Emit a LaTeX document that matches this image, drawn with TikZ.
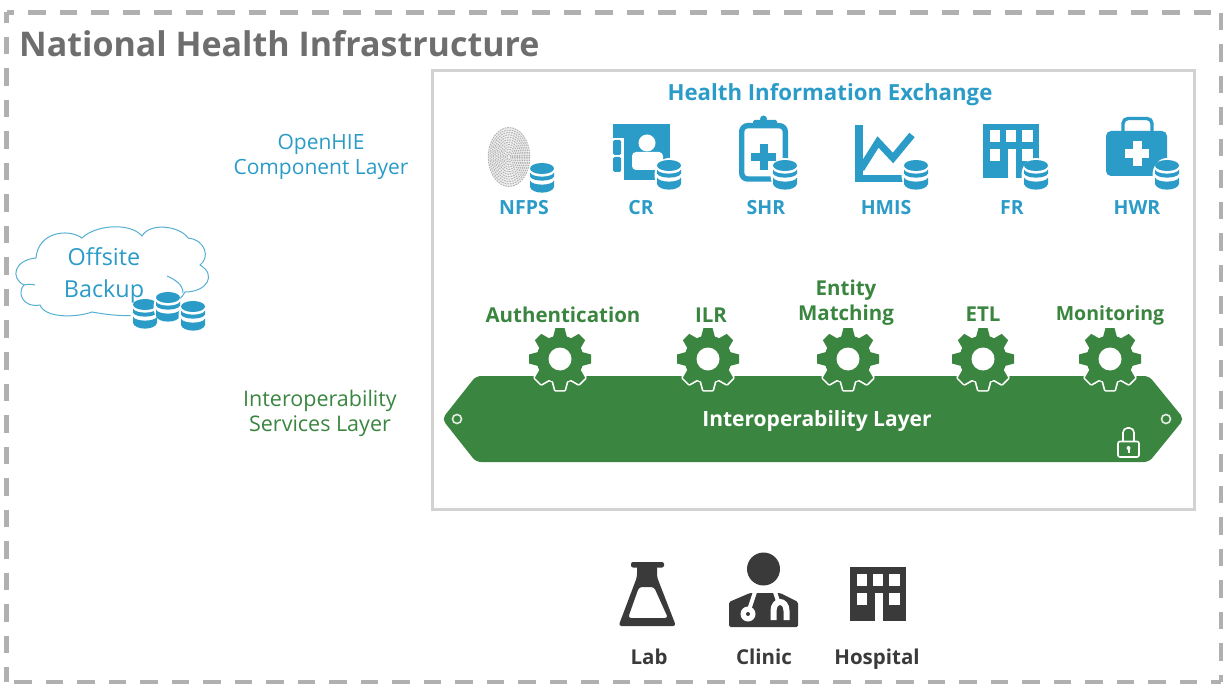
\documentclass[tikz,border=0pt]{standalone}
\usepackage{fontspec}
\setmainfont{Open Sans}
\usepackage{xcolor}
\usepackage{tikz}
\usetikzlibrary{arrows.meta,positioning,calc}
\definecolor{hieblue}{HTML}{2B9BC8}
\definecolor{hiegreen}{HTML}{3A853F}
\definecolor{hiegrey}{HTML}{6E6E6E}
\definecolor{hiedark}{HTML}{3A3A3A}
\definecolor{hiedash}{HTML}{B0B0B0}
\definecolor{hiepanel}{HTML}{D2D2D2}
\tikzset{
    pics/dbstack/.style={code={
        \fill[white] (0,0) ellipse [x radius=14.5,y radius=17];
        \fill[hieblue] (0,-9.5) ellipse [x radius=12,y radius=5.5];
        \fill[hieblue] (-12,-5.5) .. controls (-10,0) and (10,0) .. (12,-5.5) -- (12,-1.5) .. controls (10,4) and (-10,4) .. (-12,-1.5) -- cycle;
        \fill[hieblue] (-12,2.5) .. controls (-10,8) and (10,8) .. (12,2.5) -- (12,9) .. controls (10,16.5) and (-10,16.5) .. (-12,9) -- cycle;
    }},
    pics/gear/.style={code={
        \foreach \ang in {0,45,...,315} {
            \draw[white, line width=3.4, line join=round, rotate=\ang] (-7.5,-20) -- (-4.5,-31) -- (4.5,-31) -- (7.5,-20);
        }
        \draw[white, line width=3.4] (0,0) circle (23);
        \fill[hiegreen] (0,0) circle (23.5);
        \foreach \ang in {0,45,...,315} {
            \fill[hiegreen, rotate=\ang] (-7.5,-20) -- (-4.5,-31) -- (4.5,-31) -- (7.5,-20) -- cycle;
        }
        \fill[white] (0,0) circle (11.5);
    }},
    pics/building/.style={code={
        \fill[#1] (0,0) rectangle (56,54);
        \fill[white] (6.5,6.5) rectangle (17,18.5);
        \fill[white] (23,6.5) rectangle (33,18.5);
        \fill[white] (39,6.5) rectangle (49.5,18.5);
        \fill[white] (6.5,25.5) rectangle (17,37.5);
        \fill[white] (39,25.5) rectangle (49.5,37.5);
        \fill[white] (25,25.5) rectangle (33,54);
    }},
}
\begin{document}
\begin{tikzpicture}[
    x=1pt, y=-1pt,
    border/.style={draw=hiedash, line width=4.3, dash pattern=on 17.5pt off 14pt},
    panel/.style={draw=hiepanel, line width=3},
    title/.style={font=\fontsize{34}{36}\selectfont\bfseries, text=hiegrey, inner sep=0pt},
    bluehead/.style={font=\fontsize{22.2}{24}\selectfont\bfseries, text=hieblue, inner sep=0pt},
    layerblue/.style={font=\fontsize{21}{25}\selectfont, text=hieblue, align=center, inner sep=0pt},
    layergreen/.style={font=\fontsize{21.5}{25}\selectfont, text=hiegreen, align=center, inner sep=0pt},
    bluelabel/.style={font=\fontsize{19.5}{20}\selectfont\bfseries, text=hieblue, inner sep=0pt, anchor=base},
    greenlabel/.style={font=\fontsize{20.5}{25}\selectfont\bfseries, text=hiegreen, align=center, inner sep=0pt},
    darklabel/.style={font=\fontsize{20.5}{20}\selectfont\bfseries, text=hiedark, inner sep=0pt, anchor=base},
    cloudlabel/.style={font=\fontsize{23.4}{32}\selectfont, text=hieblue, align=center, inner sep=0pt},
    cloudline/.style={draw=hieblue!80, line width=1}
]
    \useasboundingbox (0,0) rectangle (1225,684);

    % Frames
    \draw[border, dash phase=10pt] (6.5,12.5) -- (1220.8,12.5);
    \draw[border, dash phase=7pt] (6.5,12.5) -- (6.5,682);
    \draw[border, dash phase=10pt] (1220.8,682) -- (1220.8,12.5);
    \draw[border, dash phase=7.7pt] (1220.8,682) -- (6.5,682);
    \draw[panel] (432,71) rectangle (1194,509);
    \node[title, anchor=west] (national) at (19,44) {National Health Infrastructure};

    % Cloud
    \draw[cloudline] (36,258) .. controls (38,232) and (68,228) .. (82,238)
        .. controls (95,225) and (130,222) .. (142,236)
        .. controls (150,222) and (180,226) .. (188,238)
        .. controls (206,240) and (210,258) .. (200,265)
        .. controls (217,275) and (207,292) .. (185,292)
        .. controls (175,310) and (145,322) .. (92,312)
        .. controls (75,318) and (45,318) .. (40,305)
        .. controls (22,308) and (17,292) .. (24,285)
        .. controls (10,278) and (14,260) .. (36,258);
    \draw[cloudline] (24,285) .. controls (28,284) and (31,284) .. (35,285);
    \draw[cloudline] (167,276) .. controls (176,280) and (183,285) .. (183,293);
    \node[cloudlabel] (offsite) at (104,275) {Offsite\\Backup};
    \pic at (145,314) {dbstack};
    \pic at (168,307) {dbstack};
    \pic at (193,316) {dbstack};

    % Layer names
    \node[layerblue] (openhie) at (321,157) {OpenHIE\\Component Layer};
    \node[layergreen] (services) at (320,413) {Interoperability\\Services Layer};
    \node[bluehead] (hie) at (830,94.5) {Health Information Exchange};

    % Fingerprint
    \fill[gray!12] (509,157) ellipse [x radius=21, y radius=30];
    \foreach \r in {2,3.7,...,21} {
        \draw[gray!60, line width=1, dash pattern=on 1.6pt off 1pt] (509,157) ellipse [x radius=\r, y radius=1.42*\r];
    }
    \pic at (542,178) {dbstack};
    \node[bluelabel] (nfps) at (524,215) {NFPS};

    % Client registry
    \fill[hieblue] (613,124) rectangle (670,138);
    \fill[hieblue] (624,124) rectangle (670,180);
    \fill[hieblue, rounded corners=1.5] (613,140) rectangle (621,155);
    \fill[hieblue, rounded corners=1.5] (613,157) rectangle (621,172);
    \fill[white] (647,143) circle (8.5);
    \fill[white, rounded corners=4] (632,170) -- (632,152) -- (663,152) -- (663,170) -- cycle;
    \pic at (669,175) {dbstack};
    \node[bluelabel] (cr) at (641,215) {CR};

    % Shared health record
    \draw[hieblue, line width=5.4, rounded corners=6] (741.7,125.7) rectangle (785.3,179);
    \fill[hieblue, rounded corners=1.5] (753,120) rectangle (777,128);
    \fill[hieblue] (763.5,119) circle (3.5);
    \fill[hieblue] (751,153) rectangle (776,161);
    \fill[hieblue] (759.5,144) rectangle (767.5,170);
    \pic at (785,175) {dbstack};
    \node[bluelabel] (shr) at (766,215) {SHR};

    % Health management information system
    \fill[hieblue] (855,125) rectangle (863,182);
    \fill[hieblue] (855,175) rectangle (906,182);
    \draw[hieblue, line width=7] (861,169) -- (878,142) -- (893,158) -- (912,135);
    \pic at (916,175) {dbstack};
    \node[bluelabel] (hmis) at (886,215) {HMIS};

    % Facility registry
    \pic at (983,124) {building=hieblue};
    \pic at (1036,175) {dbstack};
    \node[bluelabel] (fr) at (1012,215) {FR};

    % Health worker registry
    \draw[hieblue, line width=3.4, rounded corners=5] (1123,134) -- (1123,118.5) -- (1152,118.5) -- (1152,134);
    \fill[hieblue, rounded corners=5] (1106,131) rectangle (1167,176);
    \fill[white] (1125,149) rectangle (1149,158);
    \fill[white] (1132.5,141) rectangle (1141.5,166);
    \pic at (1167,175) {dbstack};
    \node[bluelabel] (hwr) at (1137,215) {HWR};

    % Interoperability layer
    \fill[hiegreen, rounded corners=5] (442,419) -- (476,376) -- (1149,376) -- (1184,419) -- (1149,462) -- (476,462) -- cycle;
    \pic at (560,359) {gear};
    \pic at (708,359) {gear};
    \pic at (848,359) {gear};
    \pic at (983,359) {gear};
    \pic at (1110,359) {gear};
    \draw[white!85!hiegreen, line width=1.6] (457,419) circle (4.5);
    \draw[white!85!hiegreen, line width=1.6] (1166,419) circle (4.5);
    \node[font=\fontsize{21}{22}\selectfont\bfseries, text=white, inner sep=0pt] (interop) at (817,421.5) {Interoperability Layer};

    % Lock
    \draw[white, line width=1.6, rounded corners=2] (1118,441.5) rectangle (1139,457);
    \draw[white, line width=1.6, rounded corners=4.5] (1123,441.5) -- (1123,428) -- (1134,428) -- (1134,441.5);
    \fill[white] (1128.5,448) circle (2);
    \fill[white] (1127.5,449) rectangle (1129.5,453);

    % Service names
    \node[greenlabel] (auth) at (563,315) {Authentication};
    \node[greenlabel] (ilr) at (711,315) {ILR};
    \node[greenlabel] (entity) at (846,303) {Entity\\Matching};
    \node[greenlabel] (etl) at (983,314) {ETL};
    \node[greenlabel, font=\fontsize{19.5}{25}\selectfont\bfseries] (monitor) at (1110,315) {Monitoring};

    % Lab
    \fill[hiedark, rounded corners=2] (631,562) rectangle (664,567.5);
    \fill[hiedark, even odd rule, rounded corners=3] (637,565) -- (657,565) -- (657,577) -- (676,626) -- (618.5,626) -- (637,577) -- cycle
        (639,587) -- (654,587) -- (668,618) -- (628,618) -- cycle;

    % Clinic
    \fill[hiedark] (763.5,569) circle (16.5);
    \fill[hiedark, rounded corners=1.5] (729,627) -- (729,602) -- (750,593) -- (780,593) -- (798,602) -- (798,627) -- cycle;
    \draw[white, line width=4] (755,592) -- (749,610);
    \fill[white] (748,614) circle (7.5);
    \fill[hiedark] (748,614) circle (2);
    \draw[white, line width=4] (775,592) -- (779,604);
    \draw[white, line width=6] (773.5,620) -- (773.5,611) .. controls (773.5,599) and (786.5,599) .. (786.5,611) -- (786.5,620);

    % Hospital
    \pic at (850,567) {building=hiedark};

    % Facility names
    \node[darklabel] (lab) at (649,664) {Lab};
    \node[darklabel] (clinic) at (764,664) {Clinic};
    \node[darklabel] (hospital) at (877,664) {Hospital};

\end{tikzpicture}
\end{document}
